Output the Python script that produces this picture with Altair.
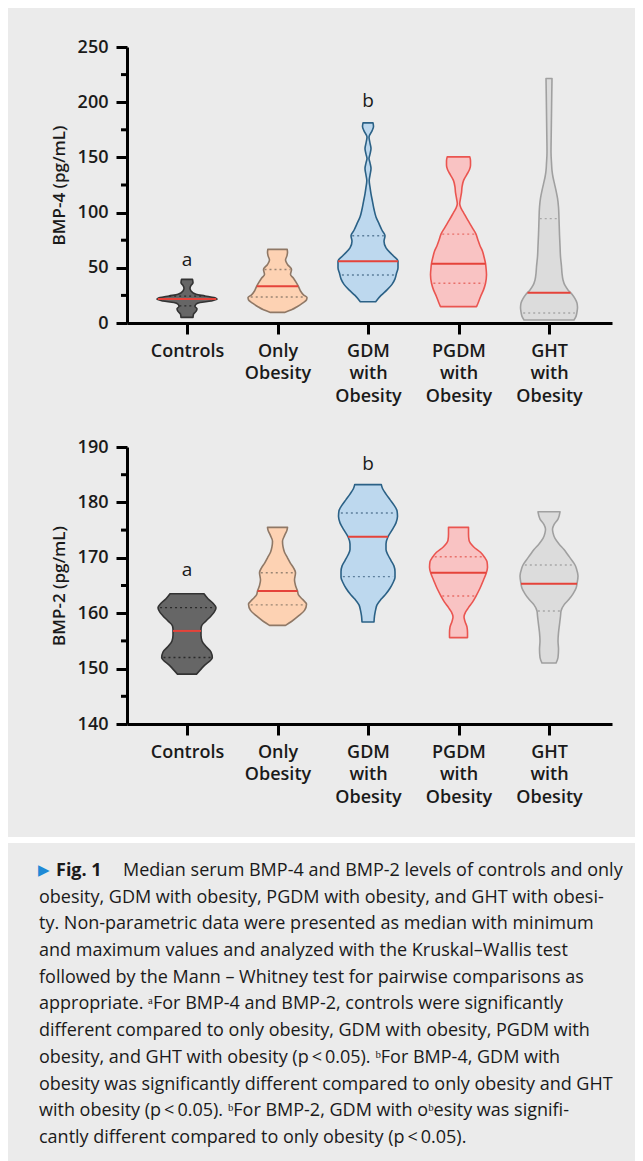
import json
import altair as alt
import numpy as np
import pandas as pd

GROUPS = ["Controls", "Only Obesity", "GDM with Obesity", "PGDM with Obesity", "GHT with Obesity"]

# ---- BMP-4 violin outlines: level (pg/mL) and half-width density
B4_CTRL_V = [5.1, 8, 10.5, 13, 15, 17, 18.5, 20, 21.4, 23, 24.5, 26, 29, 31.4, 34, 36.5, 39.5]
B4_CTRL_W = [6, 6.5, 9, 10, 8, 9, 13, 24, 30, 27, 18, 9, 4, 3, 4, 6, 5.5]
B4_ONLY_V = [9.6, 12, 15, 18, 21, 23, 25.5, 29, 33, 37, 40.5, 44, 48.5, 53, 57, 61, 64, 66.7]
B4_ONLY_W = [7, 14, 20, 25, 29, 29.5, 26, 23, 21, 18.5, 16, 13, 14, 10, 8, 9.5, 10, 9.7]
B4_GDM_V = [19.3, 25, 30, 35, 40, 45, 50, 56, 62, 68, 74, 79, 84, 90, 96, 103, 110, 117, 123, 129,
            134, 140, 145, 149, 153, 158, 163, 168.5, 174, 178, 181.3]
B4_GDM_W = [7.7, 13, 19, 24, 27, 28.5, 30, 30, 24, 18, 16, 17, 14, 11, 8, 6, 4.5, 3, 2, 1.2,
            2, 3, 2, 1, 2, 3, 2, 1, 4, 5.5, 5]
B4_PGDM_V = [14.8, 19, 23.8, 30, 36, 43.6, 50, 54, 60, 65, 70, 75, 80.5, 86, 93.6, 100, 104, 108,
             113, 118, 123, 129, 134, 139, 143, 147, 150.5]
B4_PGDM_W = [18, 20, 22, 25, 27, 28, 27.5, 27, 25.5, 24, 21.5, 19.5, 17.5, 14, 9, 5, 2.5, 1.2,
             2, 3, 3.5, 5, 8, 11, 12, 12, 11.3]
B4_GHT_V = [2.7, 6, 10, 14, 18, 22, 26, 30, 34, 39, 45, 51, 60, 70, 80, 94, 105, 113, 120, 126,
            132, 138, 145, 155, 170, 190, 210, 221.4]
B4_GHT_W = [25, 27, 28, 28.5, 28, 26, 23, 19, 16, 14, 13, 12.5, 11.5, 11, 10.5, 10, 9.5, 8.5, 7,
            5.5, 4, 3, 2.5, 2, 2.2, 2.5, 2.8, 3]
B4_Q1 = [15.5, 23.5, 43.5, 36, 9]
B4_MED = [21.8, 33.4, 56, 53.6, 27.5]
B4_Q3 = [24.3, 48.5, 79, 80.5, 94.5]

# ---- BMP-2 violin outlines
B2_CTRL_V = [149, 150.5, 152, 153, 154, 155, 156, 157, 157.7, 158.6, 159.5, 160.3, 161, 161.8, 162.6, 163.5]
B2_CTRL_W = [9.5, 17, 25.3, 24, 19, 15, 14, 14, 14.5, 19, 24, 27.5, 29, 26, 21, 17]
B2_ONLY_V = [157.8, 158.5, 159.5, 160.5, 161.6, 162.5, 163.3, 164, 165, 166, 167.3, 168.2, 169, 170,
             171, 172, 173, 174, 175, 175.5]
B2_ONLY_W = [8, 14, 21, 27, 29, 25, 21, 20, 18, 17, 18, 16, 13, 10, 7, 5.5, 5, 7, 9.5, 10]
B2_GDM_V = [158.4, 159.5, 160.5, 161.5, 162.5, 163.5, 164.5, 165.5, 166.5, 167.5, 168.5, 169.5, 170.5,
            171.5, 172.5, 173.8, 175, 176.3, 177.5, 178.5, 179.5, 180.5, 181.5, 182.5, 183.2]
B2_GDM_W = [6, 6.5, 7.5, 9, 13, 18, 22, 25, 27, 27, 26, 23, 20, 18, 18, 20, 24, 28, 29.5, 29, 26, 22,
            18, 14.5, 13.3]
B2_PGDM_V = [155.6, 156.5, 157.5, 158.5, 159.3, 160.2, 161, 162, 163.1, 164.5, 166, 167.1, 168.3, 169.3,
             170.1, 171, 172, 173.2, 174.3, 175.5]
B2_PGDM_W = [9, 9, 8.5, 6.5, 5.5, 7, 10, 14, 17.5, 21.5, 25, 27.5, 29, 28.5, 26, 22, 15, 10.5, 10, 10]
B2_GHT_V = [151, 152, 153.5, 155, 156.5, 158, 159.5, 160.4, 161.5, 162.5, 163.5, 164.5, 165.3, 166.7,
            168, 168.7, 169.5, 170.5, 171.5, 172.5, 173.5, 174.5, 175.2, 176, 177, 178.3]
B2_GHT_W = [7, 9, 9.5, 9, 9.5, 10.5, 11.5, 12, 15, 20, 24, 27, 28, 29, 27.5, 26, 23, 19, 15, 10, 6, 4,
            3.5, 5, 9, 11]
B2_Q1 = [152, 161.5, 166.6, 163.1, 160.4]
B2_MED = [156.8, 164, 173.8, 167.3, 165.3]
B2_Q3 = [161, 167.3, 178.1, 170.2, 168.7]

B4_LETTERS = [("a", 0, 57), ("b", 2, 201)]
B2_LETTERS = [("a", 0, 167.8), ("b", 2, 186.9)]

CAPTION = [
    "Median serum BMP-4 and BMP-2 levels of controls and only",
    "obesity, GDM with obesity, PGDM with obesity, and GHT with obesi-",
    "ty. Non-parametric data were presented as median with minimum",
    "and maximum values and analyzed with the Kruskal\u2013Wallis test",
    "followed by the Mann \u2013 Whitney test for pairwise comparisons as",
    "appropriate. \u1d43For BMP-4 and BMP-2, controls were significantly",
    "different compared to only obesity, GDM with obesity, PGDM with",
    "obesity, and GHT with obesity (p\u2009<\u20090.05). \u1d47For BMP-4, GDM with",
    "obesity was significantly different compared to only obesity and GHT",
    "with obesity (p\u2009<\u20090.05). \u1d47For BMP-2, GDM with o\u1d47esity was signifi-",
    "cantly different compared to only obesity (p\u2009<\u20090.05).",
]

# ---- styles
FONT = "Open Sans"
TXT = "#1a1a1a"
BG = "#ebebeb"
FILLS = ["#666666", "#fdd2b3", "#bdd8ee", "#f9c3c3", "#dcdcdc"]
STROKES = ["#333333", "#8f7866", "#2b6186", "#ea5550", "#a0a0a0"]
QCOLS = ["#2a2a2a", "#9a8573", "#5d7f9c", "#e8706a", "#a8a8a8"]
MEDCOL = "#e5433a"
STEP = 90.5
XDOM = [-0.663, 4.696]
PW = 485

one = pd.DataFrame({"k": [0]})


def violin_panel(profiles, q1, med, q3, ydom, yvals, minor, title, letters, height, panel=None):
    rows = []
    for i, (vs, ws) in enumerate(profiles):
        for v, w in zip(vs, ws):
            rows.append({"g": GROUPS[i], "v": v, "x": i - w / STEP, "x2": i + w / STEP})
    df = pd.DataFrame(rows)

    qrows, mrows = [], []
    for i, (vs, ws) in enumerate(profiles):
        for val in (q1[i], q3[i]):
            hw = np.interp(val, vs, ws) / STEP * 0.93
            qrows.append({"g": GROUPS[i], "v": val, "x": i - hw, "x2": i + hw})
        hw = np.interp(med[i], vs, ws) / STEP
        mrows.append({"g": GROUPS[i], "v": med[i], "x": i - hw, "x2": i + hw})
    qdf = pd.DataFrame(qrows)
    mdf = pd.DataFrame(mrows)

    xs = alt.Scale(domain=XDOM, nice=False, zero=False)
    ys = alt.Scale(domain=ydom, nice=False, zero=False)
    xaxis = alt.Axis(values=[0, 1, 2, 3, 4],
                     labelExpr="split(" + json.dumps(GROUPS) + "[datum.value], ' ')",
                     title=None, grid=False, domainColor="black", domainWidth=3,
                     tickColor="black", tickWidth=3, tickSize=11, labelFont=FONT,
                     labelFontSize=18, labelFontWeight=600, labelColor=TXT, labelPadding=8,
                     labelLineHeight=22.7, labelFlush=False, labelOverlap=False, labelBound=False,
                     zindex=1)
    yaxis = alt.Axis(values=yvals, title=title, grid=False, domainColor="black", domainWidth=3,
                     tickColor="black", tickWidth=3, tickSize=11, labelFont=FONT, labelFontSize=18,
                     labelFontWeight=600, labelColor=TXT, labelPadding=8, labelFlush=False,
                     titleFont=FONT, titleFontSize=17, titleFontWeight=600, titleColor=TXT,
                     titlePadding=9, zindex=1)
    X = alt.X("x:Q", scale=xs, axis=xaxis)
    Y = alt.Y("v:Q", scale=ys, axis=yaxis)
    fill = alt.Fill("g:N", scale=alt.Scale(domain=GROUPS, range=FILLS), legend=None)
    stroke = alt.Stroke("g:N", scale=alt.Scale(domain=GROUPS, range=STROKES), legend=None)

    layers = []
    if panel is not None:
        layers.append(alt.Chart(one).mark_rect(color=BG).encode(
            x=alt.value(panel[0]), x2=alt.value(panel[1]),
            y=alt.value(panel[2]), y2=alt.value(panel[3])))
    areas = alt.Chart(df).mark_area(orient="horizontal", interpolate="monotone",
                                    strokeWidth=1.6, fillOpacity=1, strokeJoin="round").encode(
        y=Y, x=X, x2="x2:Q", fill=fill, stroke=stroke, detail="g:N")
    quart = alt.Chart(qdf).mark_rule(strokeWidth=1.4, strokeDash=[2, 3]).encode(
        y=Y, x=X, x2="x2:Q",
        color=alt.Color("g:N", scale=alt.Scale(domain=GROUPS, range=QCOLS), legend=None))
    meds = alt.Chart(mdf).mark_rule(strokeWidth=2, color=MEDCOL).encode(y=Y, x=X, x2="x2:Q")
    mdf2 = pd.DataFrame({"v": minor})
    minors = alt.Chart(mdf2).mark_rule(strokeWidth=3, color="black").encode(
        y=Y, x=alt.value(-6), x2=alt.value(0))
    ldf = pd.DataFrame([{"t": t, "x": xi, "v": v} for t, xi, v in letters])
    lets = alt.Chart(ldf).mark_text(font=FONT, fontSize=19, color=TXT, baseline="middle").encode(
        x=X, y=Y, text="t:N")
    layers += [areas, quart, meds, minors, lets]
    return alt.layer(*layers).properties(width=PW, height=height)


top = violin_panel(
    [(B4_CTRL_V, B4_CTRL_W), (B4_ONLY_V, B4_ONLY_W), (B4_GDM_V, B4_GDM_W),
     (B4_PGDM_V, B4_PGDM_W), (B4_GHT_V, B4_GHT_W)],
    B4_Q1, B4_MED, B4_Q3, [0, 250], [0, 50, 100, 150, 200, 250], [25, 75, 125, 175, 225],
    "BMP-4 (pg/mL)", B4_LETTERS, 276, panel=(-119, 508, -39, 790))

bottom = violin_panel(
    [(B2_CTRL_V, B2_CTRL_W), (B2_ONLY_V, B2_ONLY_W), (B2_GDM_V, B2_GDM_W),
     (B2_PGDM_V, B2_PGDM_W), (B2_GHT_V, B2_GHT_W)],
    B2_Q1, B2_MED, B2_Q3, [140, 190], [140, 150, 160, 170, 180, 190], [145, 155, 165, 175, 185],
    "BMP-2 (pg/mL)", B2_LETTERS, 277)

cap_panel = alt.Chart(one).mark_rect(color=BG).encode(
    x=alt.value(-119), x2=alt.value(508), y=alt.value(-5), y2=alt.value(313))
tri = alt.Chart(one).mark_text(font="DejaVu Sans", fontSize=15, color="#1e8ad6", align="left",
                               baseline="alphabetic").encode(
    x=alt.value(-89), y=alt.value(27), text=alt.value("\u25b6"))
fig = alt.Chart(one).mark_text(font=FONT, fontSize=18, fontWeight="bold", color=TXT, align="left",
                               baseline="alphabetic").encode(
    x=alt.value(-71), y=alt.value(28), text=alt.value("Fig. 1"))
first = alt.Chart(one).mark_text(font=FONT, fontSize=18, color=TXT, align="left",
                                 baseline="alphabetic").encode(
    x=alt.value(-4), y=alt.value(28), text=alt.value(CAPTION[0]))
rest = alt.Chart(one).mark_text(font=FONT, fontSize=18, color=TXT, align="left",
                                baseline="alphabetic", lineBreak="\n", lineHeight=26.7).encode(
    x=alt.value(-88), y=alt.value(54.7), text=alt.value("\n".join(CAPTION[1:])))
caption = alt.layer(cap_panel, tri, fig, first, rest).properties(width=PW, height=300)

chart = alt.vconcat(top, bottom, caption, spacing=124, bounds="flush", padding=0).configure(
    background="white").configure_view(strokeWidth=0)

chart.save("out.html", embed_options={"renderer": "svg", "actions": False})
